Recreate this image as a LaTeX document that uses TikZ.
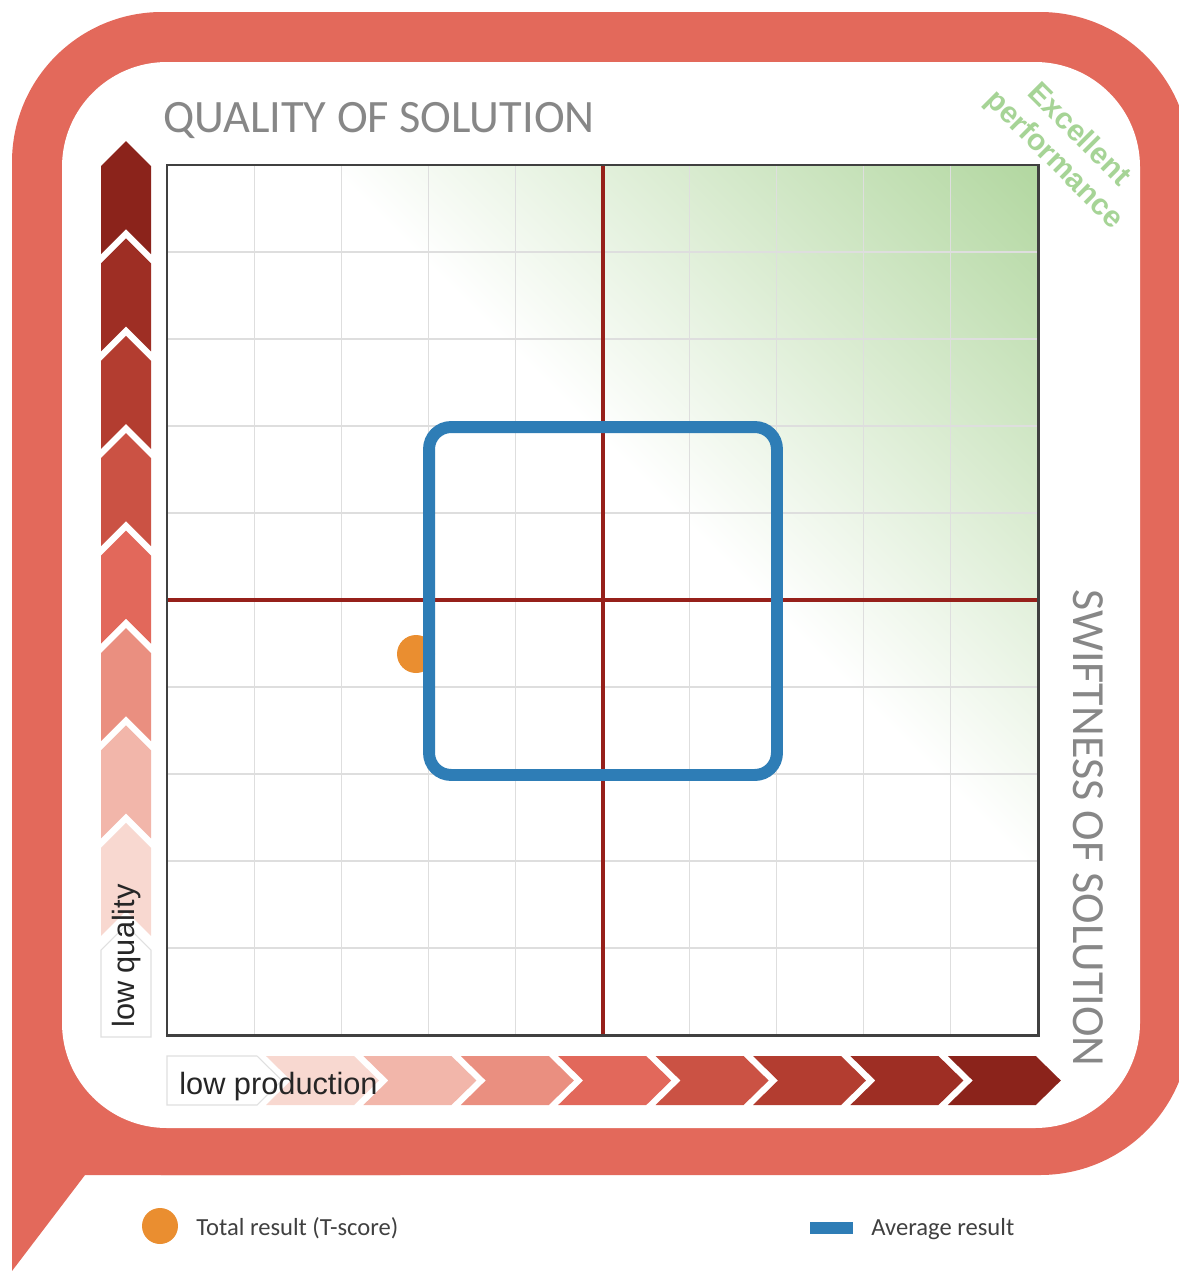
\documentclass[tikz,border=0pt]{standalone}
\usepackage{fontspec}
\setmainfont{Liberation Sans}
\newfontfamily\calib{Carlito}
\definecolor{framered}{RGB}{227,105,91}
\definecolor{gridgreen}{RGB}{178,215,160}
\definecolor{excgreen}{RGB}{166,212,150}
\definecolor{axisred}{RGB}{150,32,26}
\definecolor{avgblue}{RGB}{46,125,182}
\definecolor{dotorange}{RGB}{234,142,48}
\definecolor{titlegray}{RGB}{135,135,135}
\definecolor{legendgray}{RGB}{64,64,64}
\definecolor{chA}{RGB}{139,35,27}
\definecolor{chB}{RGB}{158,46,36}
\definecolor{chC}{RGB}{179,61,48}
\definecolor{chD}{RGB}{203,82,68}
\definecolor{chE}{RGB}{226,104,91}
\definecolor{chF}{RGB}{234,143,128}
\definecolor{chG}{RGB}{242,182,170}
\definecolor{chH}{RGB}{248,216,208}
\tikzstyle{gridline} = [draw=black!13, line width=0.6pt]
\tikzstyle{axisline} = [draw=axisred, line width=2.4pt]
\tikzstyle{gridframe} = [draw=black!75, line width=1.7pt]
\tikzstyle{axistitle} = [inner sep=0, text=titlegray, font=\calib\fontsize{26}{30}\selectfont]
\tikzstyle{scalelabel} = [inner sep=0, text=black!85, font=\fontsize{17.5}{20}\selectfont]
\tikzstyle{legendtext} = [anchor=base west, inner sep=0, text=legendgray, font=\calib\fontsize{14}{16}\selectfont]
\tikzstyle{lowbox} = [fill=white, draw=black!12, line width=0.6pt]

\begin{document}
\begin{tikzpicture}[x=0.02cm, y=-0.02cm]
		\useasboundingbox[fill=white] (0,0) rectangle (1179,1271);
		% Speech bubble frame
		\fill[framered, rounded corners=3cm] (12,12) rectangle (1190,1175);
		\fill[framered] (12,900) -- (12,1271) -- (85,1175) -- (400,1175) -- (400,900) -- cycle;
		\fill[white, rounded corners=2.1cm] (62,62) rectangle (1140,1128);
	
		% Green corner
		\begin{scope}
			\clip (167,165) rectangle (1038,1035);
			\begin{scope}[transform canvas={rotate=45}]
				\shade[left color=white, right color=gridgreen] (2.3cm,-40cm) rectangle (12.35cm,10cm);
			\end{scope}
		\end{scope}
	
		% Grid and axes
		\foreach \k in {1,...,9} {
			\draw[gridline] (167+87.1*\k,165) -- (167+87.1*\k,1035);
			\draw[gridline] (167,165+87*\k) -- (1038,165+87*\k);
		}
		\draw[axisline] (603,165) -- (603,1035);
		\draw[axisline] (167,600) -- (1038,600);
		\draw[gridframe] (167,165) rectangle (1038,1035);
	
		% Results
		\node (tscore) [circle, fill=dotorange, minimum size=0.76cm, inner sep=0] at (416,654) {};
		\node (average) [draw=avgblue, line width=6.8pt, rounded corners=0.44cm, minimum width=6.96cm, minimum height=6.96cm, inner sep=0] at (603,601) {};
	
		% Quality scale
		\fill[lowbox] (101,1037) -- (101,950) -- (126,925) -- (151,950) -- (151,1037) -- cycle;
		\foreach \col [count=\j from 0] in {chA,chB,chC,chD,chE,chF,chG,chH} {
			\pgfmathsetmacro{\s}{166+97.4*\j}
			\fill[\col] (101,\s) -- (126,\s-25) -- (151,\s) -- (151,\s+88) -- (126,\s+63) -- (101,\s+88) -- cycle;
		}
		\node (lowquality) [scalelabel, rotate=90] at (127,956) {low quality};
	
		% Production scale
		\fill[lowbox] (167,1056) -- (257,1056) -- (282,1080.5) -- (257,1105) -- (167,1105) -- cycle;
		\foreach \col [count=\j from 0] in {chH,chG,chF,chE,chD,chC,chB,chA} {
			\pgfmathsetmacro{\a}{266+97.4*\j}
			\fill[\col] (\a,1056) -- (\a+88,1056) -- (\a+113,1080.5) -- (\a+88,1105) -- (\a,1105) -- (\a+25,1080.5) -- cycle;
		}
		\node (lowproduction) [scalelabel, anchor=base west] at (179,1094) {low production};
	
		% Titles
		\node (quality) [axistitle, anchor=base west, font=\calib\fontsize{26.4}{30}\selectfont] at (163,132) {QUALITY OF SOLUTION};
		\node (swiftness) [axistitle, anchor=base, rotate=-90, font=\calib\fontsize{26.2}{30}\selectfont] at (1073,828) {SWIFTNESS OF SOLUTION};
		\node (excellent) [rotate=-45, align=center, inner sep=0, text=excgreen, font=\bfseries\fontsize{17}{20}\selectfont] at (1066,148) {Excellent\\performance};
	
		% Legend
		\node (legtotal) [circle, fill=dotorange, minimum size=0.72cm, inner sep=0] at (160,1226) {};
		\node (legtotaltext) [legendtext] at (196,1235) {Total result (T-score)};
		\node (legaverage) [rectangle, fill=avgblue, minimum width=0.86cm, minimum height=0.24cm, inner sep=0] at (831.5,1227.5) {};
		\node (legaveragetext) [legendtext] at (871,1235) {Average result};
	\end{tikzpicture}
\end{document}
